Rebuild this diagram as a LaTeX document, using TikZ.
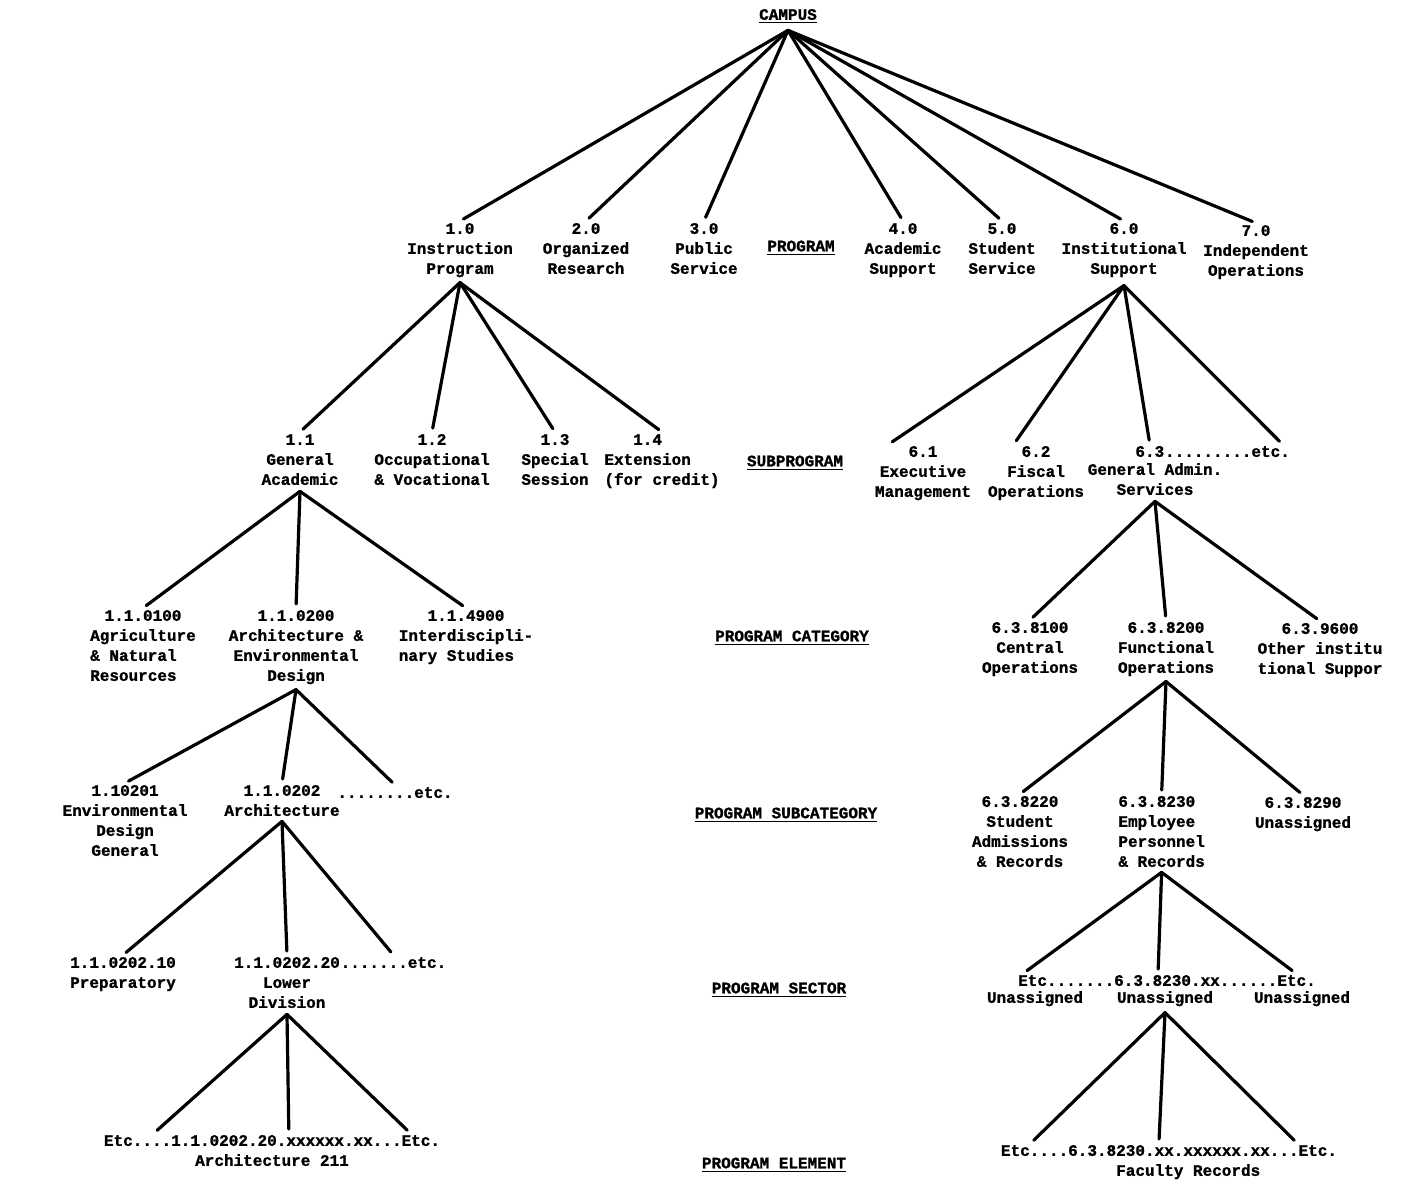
\documentclass[tikz,border=0pt]{standalone}
\usepackage{fontspec}
\setmonofont{Liberation Mono}[BoldFeatures={FakeBold=1.2}]
\usetikzlibrary{calc}
\newcommand\fl{\rule{0pt}{6.2pt}}
\begin{document}
\begin{tikzpicture}[x=0.5pt,y=-0.5pt,
  lbl/.style={font=\ttfamily\bfseries\fontsize{8}{10}\selectfont, inner sep=0pt, align=center, anchor=north},
  cat/.style={font=\ttfamily\bfseries\fontsize{8}{10}\selectfont, inner sep=0pt, anchor=center},
  edge/.style={line width=1.6pt, shorten >=2pt, line cap=round}]
\useasboundingbox[fill=white] (0,0) rectangle (1402,1180);
\clip (0,0) rectangle (1402,1180);

% ---- top
\node[lbl] (campus) at (788,7) {\fl\underline{CAMPUS}};

% ---- level 1 (PROGRAM)
\node[lbl] (n10) at (460,221) {\fl 1.0\\Instruction\\Program};
\node[lbl] (n20) at (586,221) {\fl 2.0\\Organized\\Research};
\node[lbl] (n30) at (704,221) {\fl 3.0\\Public\\Service};
\node[cat] (cprog) at (801,248) {\underline{PROGRAM}};
\node[lbl] (n40) at (903,221) {\fl 4.0\\Academic\\Support};
\node[lbl] (n50) at (1002,221) {\fl 5.0\\Student\\Service};
\node[lbl] (n60) at (1124,221) {\fl 6.0\\Institutional\\Support};
\node[lbl] (n70) at (1256,223) {\fl 7.0\\Independent\\Operations};

% ---- level 2 (SUBPROGRAM)
\node[lbl] (n11) at (300,432) {\fl 1.1\\General\\Academic};
\node[lbl] (n12) at (432,432) {\fl 1.2\\Occupational\\\& Vocational};
\node[lbl] (n13) at (555,432) {\fl 1.3\\Special\\Session};
\node[lbl] (n14) at (662,432) {\fl 1.4\hphantom{xxx}\\Extension\hphantom{xxx}\\(for credit)};
\node[cat] (csub) at (795,463) {\underline{SUBPROGRAM}};
\node[lbl] (n61) at (923,444) {\fl 6.1\\Executive\\Management};
\node[lbl] (n62) at (1036,444) {\fl 6.2\\Fiscal\\Operations};
\node[lbl, anchor=north west] (n63) at (1135,444) {\fl 6.3};
\node[lbl, anchor=north west] (e63) at (n63.north east) {\fl .........etc.};
\node[lbl] (n63t) at (1155,462) {\fl General Admin.\\Services};

% ---- level 3 (PROGRAM CATEGORY)
\node[lbl] (n1100) at (143,608) {\fl 1.1.0100\\Agriculture\\\& Natural\hphantom{xx}\\Resources\hphantom{xx}};
\node[lbl] (n1200) at (296,608) {\fl 1.1.0200\\Architecture \&\\Environmental\\Design};
\node[lbl] (n4900) at (466,608) {\fl 1.1.4900\\Interdiscipli-\\nary Studies\hphantom{xx}};
\node[cat] (ccat) at (792,638) {\underline{PROGRAM CATEGORY}};
\node[lbl] (n8100) at (1030,620) {\fl 6.3.8100\\Central\\Operations};
\node[lbl] (n8200) at (1166,620) {\fl 6.3.8200\\Functional\\Operations};
\node[lbl] (n9600) at (1320,621) {\fl 6.3.9600\\Other institu\\tional Suppor};

% ---- level 4 (PROGRAM SUBCATEGORY)
\node[lbl] (n10201) at (125,783) {\fl 1.10201\\Environmental\\Design\\General};
\node[lbl] (n10202) at (282,783) {\fl 1.1.0202\\Architecture};
\node[lbl] (e4) at (395,785) {\fl ........etc.};
\node[cat] (csubcat) at (786,815) {\underline{PROGRAM SUBCATEGORY}};
\node[lbl] (n8220) at (1020,794) {\fl 6.3.8220\\Student\\Admissions\\\& Records};
\node[lbl, anchor=north west, align=left] (n8230) at (1118,794) {\fl 6.3.8230\\Employee\\Personnel\\\& Records};
\node[lbl] (n8290) at (1303,795) {\fl 6.3.8290\\Unassigned};

% ---- level 5 (PROGRAM SECTOR)
\node[lbl] (n1010) at (123,955) {\fl 1.1.0202.10\\Preparatory};
\node[lbl] (n1020) at (287,955) {\fl 1.1.0202.20\\Lower\\Division};
\node[lbl, anchor=north west] (e5) at (n1020.north east) {\fl .......etc.};
\node[cat] (csec) at (779,990) {\underline{PROGRAM SECTOR}};
\node[lbl] (r5) at (1167,973) {\fl Etc.......6.3.8230.xx......Etc.};
\node[lbl] (u1) at (1035,990) {\fl Unassigned};
\node[lbl] (u2) at (1165,990) {\fl Unassigned};
\node[lbl] (u3) at (1302,990) {\fl Unassigned};

% ---- level 6 (PROGRAM ELEMENT)
\node[lbl] (n6l) at (272,1133) {\fl Etc....1.1.0202.20.xxxxxx.xx...Etc.\\Architecture 211};
\node[cat] (celem) at (774,1165) {\underline{PROGRAM ELEMENT}};
\node[lbl] (n6r) at (1169,1143) {\fl Etc....6.3.8230.xx.xxxxxx.xx...Etc.\\\hphantom{xxxx}Faculty Records};

% ---- connectors
\coordinate (aC) at ($(campus.south)+(0,6)$);
\foreach \c in {n10,n20,n30,n40,n50,n60,n70} \draw[edge] (aC) -- (\c.north);

\coordinate (a10) at ($(n10.south)+(0,5)$);
\foreach \c in {n11,n12,n13,n14} \draw[edge] (a10) -- (\c.north);

\coordinate (a60) at ($(n60.south)+(0,8)$);
\draw[edge] (a60) -- ($(n61.north)+(-34,0)$);
\draw[edge] (a60) -- ($(n62.north)+(-22,0)$);
\draw[edge] (a60) -- (n63.north);
\draw[edge] (a60) -- ($(e63.north east)+(-8,0)$);

\coordinate (a11) at ($(n11.south)+(0,6)$);
\foreach \c in {n1100,n1200,n4900} \draw[edge] (a11) -- (\c.north);

\coordinate (a1200) at ($(n1200.south)+(0,5)$);
\foreach \c in {n10201,n10202,e4} \draw[edge] (a1200) -- (\c.north);

\coordinate (a10202) at ($(n10202.south)+(0,5)$);
\foreach \c in {n1010,n1020,e5} \draw[edge] (a10202) -- (\c.north);

\coordinate (a1020) at ($(n1020.south)+(0,6)$);
\draw[edge] (a1020) -- ($(n6l.north west)!0.15!(n6l.north east)$);
\draw[edge] (a1020) -- ($(n6l.north west)!0.55!(n6l.north east)$);
\draw[edge] (a1020) -- ($(n6l.north west)!0.91!(n6l.north east)$);

\coordinate (a63) at ($(n63t.south)+(0,6)$);
\foreach \c in {n8100,n8200,n9600} \draw[edge] (a63) -- (\c.north);

\coordinate (a8200) at ($(n8200.south)+(0,5)$);
\foreach \c in {n8220,n8230,n8290} \draw[edge] (a8200) -- (\c.north);

\coordinate (a8230) at ($(n8230.south)+(0,5)$);
\draw[edge] (a8230) -- ($(r5.north west)!0.02!(r5.north east)$);
\draw[edge] (a8230) -- ($(r5.north west)!0.47!(r5.north east)$);
\draw[edge] (a8230) -- ($(r5.north west)!0.93!(r5.north east)$);

\coordinate (au2) at ($(u2.south)+(0,6)$);
\draw[edge] (au2) -- ($(n6r.north west)!0.09!(n6r.north east)$);
\draw[edge] (au2) -- ($(n6r.north west)!0.47!(n6r.north east)$);
\draw[edge] (au2) -- ($(n6r.north west)!0.88!(n6r.north east)$);
\end{tikzpicture}
\end{document}
